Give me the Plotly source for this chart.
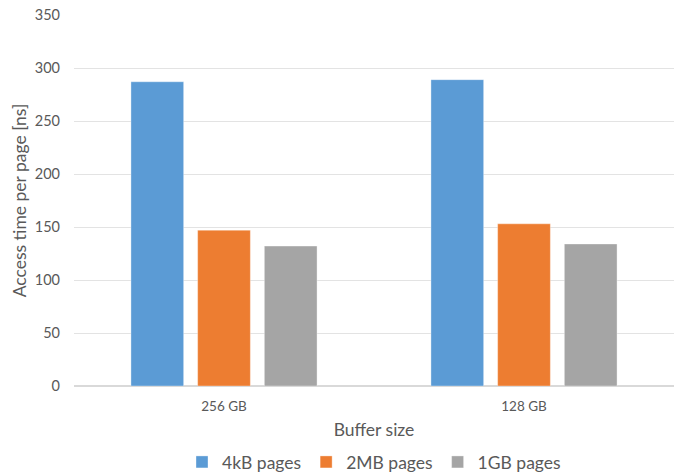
import plotly.graph_objects as go

categories = ["256 GB", "128 GB"]
series_names = ["4kB pages", "2MB pages", "1GB pages"]
vals_4kb = [287, 289]
vals_2mb = [147, 153]
vals_1gb = [132, 134]
colors = ["#5B9BD5", "#ED7D31", "#A5A5A5"]
y_ticks = [0, 50, 100, 150, 200, 250, 300, 350]

fig = go.Figure()
for name, vals, c in zip(series_names, [vals_4kb, vals_2mb, vals_1gb], colors):
    fig.add_trace(go.Bar(x=categories, y=vals, name=name, marker_color=c,
                         marker_line=dict(color="rgba(255,255,255,0.35)", width=1)))

font = "Lato, 'Open Sans', sans-serif"
fig.update_layout(
    width=681, height=475,
    margin=dict(l=74, r=7, t=15, b=89, autoexpand=False),
    paper_bgcolor="white", plot_bgcolor="white",
    barmode="group", bargap=0.333, bargroupgap=0.21,
    font=dict(family=font, color="#595959", size=13),
    legend=dict(orientation="h", x=0.5, xanchor="center", y=-0.205, yanchor="middle",
                font=dict(size=17.5, color="#595959"), itemwidth=30, traceorder="normal"),
    xaxis=dict(title=dict(text="Buffer size", font=dict(size=17.5), standoff=10),
               showline=True, linecolor="#d9d9d9", linewidth=1, ticks="",
               tickfont=dict(size=13.5), ticklabelstandoff=8, automargin=False),
    yaxis=dict(title=dict(text="Access time per page [ns]", font=dict(size=17.5), standoff=3),
               range=[0, 350], tickvals=y_ticks, showgrid=True, gridcolor="#e3e3e3",
               gridwidth=1, zeroline=True, zerolinecolor="#d9d9d9", ticks="",
               tickfont=dict(size=14.5), ticklabelstandoff=13, automargin=False),
)
fig.write_html("out.html")
